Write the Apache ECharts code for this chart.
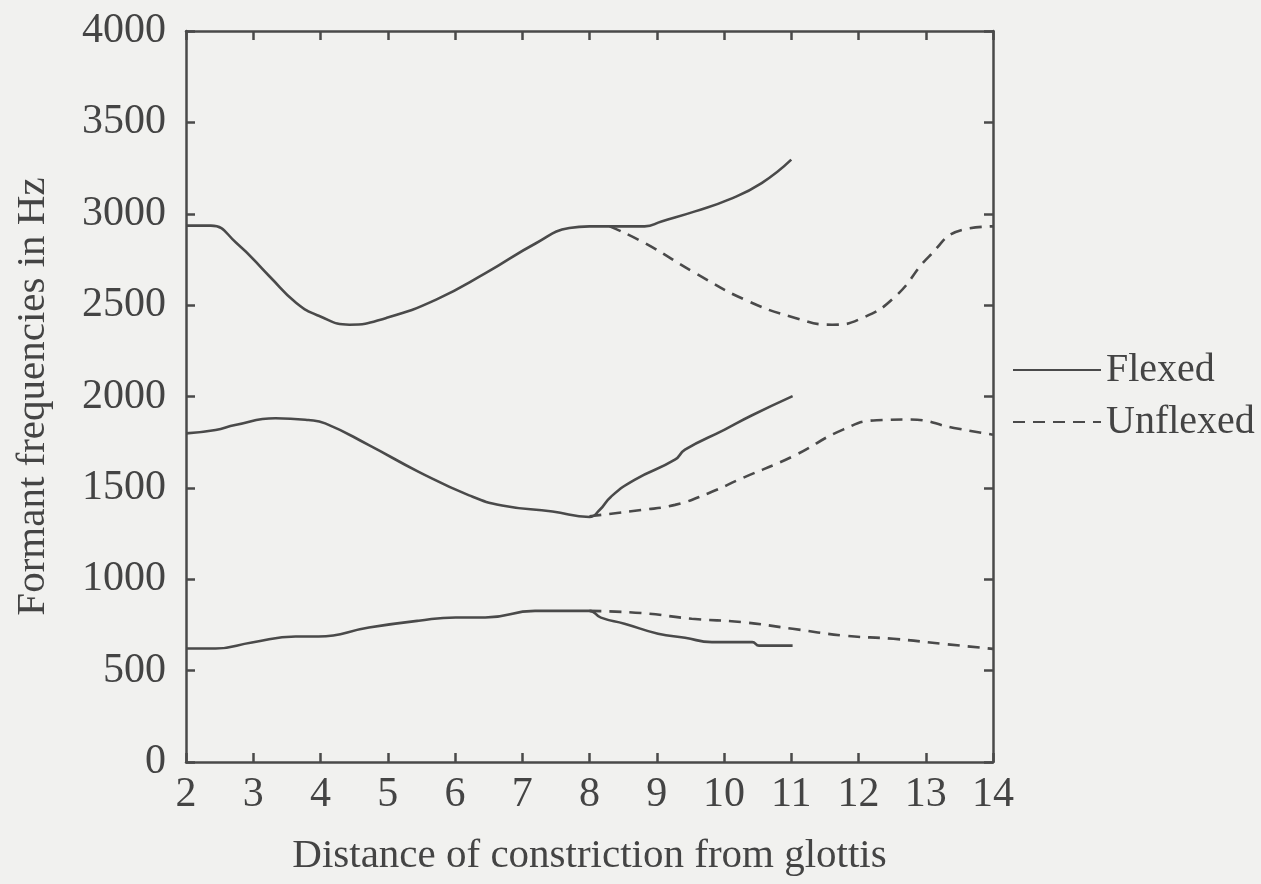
<!DOCTYPE html>
<html>
<head>
<meta charset="utf-8">
<script src="https://cdn.jsdelivr.net/npm/echarts@6/dist/echarts.min.js"></script>
<style>
  html, body { margin: 0; padding: 0; background: #f1f1ef; }
  #chart { width: 1261px; height: 884px; }
</style>
</head>
<body>
<div id="chart"></div>
<script>
// [distance, Hz]
var flexedF3 = [[2, 2935], [2.37, 2935], [2.75, 2840], [3.24, 2658], [3.64, 2512], [3.99, 2439], [4.43, 2393], [4.98, 2430], [5.72, 2530], [6.46, 2676], [7.21, 2840], [7.7, 2922], [8.0, 2931], [8.82, 2931], [9.07, 2958], [9.57, 3013], [10.07, 3077], [10.56, 3168], [11.0, 3296]];
var unflexedF3 = [[8.3, 2931], [8.82, 2840], [9.57, 2676], [10.31, 2530], [11.06, 2430], [11.61, 2393], [12.06, 2430], [12.55, 2548], [13.05, 2767], [13.55, 2913], [14, 2931]];
var flexedF2 = [[2, 1798], [2.44, 1817], [2.73, 1844], [3.33, 1881], [3.82, 1871], [4.07, 1853], [4.72, 1734], [5.46, 1588], [6.21, 1459], [6.7, 1404], [7.45, 1371], [8.0, 1341], [8.15, 1379], [8.32, 1452], [8.67, 1544], [9.27, 1654], [9.42, 1709], [10.01, 1819], [10.41, 1896], [11.02, 2002]];
var unflexedF2 = [[8.0, 1345], [8.77, 1379], [9.27, 1407], [9.77, 1471], [10.27, 1553], [11.02, 1672], [11.77, 1819], [12.27, 1870], [12.77, 1874], [13.42, 1828], [14, 1791]];
var flexedF1 = [[2, 621], [2.44, 621], [2.98, 654], [3.63, 687], [3.97, 687], [4.72, 736], [5.46, 773], [6.01, 791], [6.45, 791], [7.19, 827], [8.0, 827], [8.17, 790], [8.52, 757], [9.02, 702], [9.42, 680], [9.82, 656], [10.42, 656], [10.52, 637], [11.02, 637]];
var unflexedF1 = [[8.0, 827], [8.77, 815], [9.52, 784], [10.27, 765], [11.02, 729], [11.77, 692], [12.52, 674], [13.27, 646], [14, 619]];

var legendNames = ['Flexed', 'Unflexed'];

var ink = '#4a4a4a';
var serif = 'Liberation Serif';

function curve (name, data, dashed) {
  return {
    name: name,
    type: 'line',
    data: data,
    showSymbol: false,
    symbol: 'none',
    smooth: 0.5,
    silent: true,
    lineStyle: { color: ink, width: 2.6, type: dashed ? [12, 8] : 'solid' },
    itemStyle: { color: ink }
  };
}

var myChart = echarts.init(document.getElementById('chart'));
var frameAxis = {
  axisLine: { show: true, onZero: false, lineStyle: { color: ink, width: 2.5 } },
  axisTick: { show: true, inside: true, length: 9, lineStyle: { color: ink, width: 2.5 } },
  splitLine: { show: false }
};

var option = {
  backgroundColor: '#f1f1ef',
  animation: false,
  grid: { left: 186, right: 268, top: 31, bottom: 122 },
  legend: {
    data: legendNames,
    orient: 'vertical',
    left: 1012,
    top: 350,
    padding: 0,
    itemGap: 12,
    itemWidth: 88,
    itemHeight: 20,
    itemStyle: { opacity: 0 },
    textStyle: { fontFamily: serif, fontSize: 40, color: '#444' },
    selectedMode: false
  },
  xAxis: [
    Object.assign({
      type: 'value', position: 'bottom', min: 2, max: 14, interval: 1,
      name: 'Distance of constriction from glottis',
      nameLocation: 'middle', nameGap: 74,
      nameTextStyle: { fontFamily: serif, fontSize: 41, color: '#444' },
      axisLabel: { fontFamily: serif, fontSize: 42, color: '#444', margin: 12 }
    }, frameAxis),
    Object.assign({
      type: 'value', position: 'top', min: 2, max: 14, interval: 1,
      axisLabel: { show: false }
    }, frameAxis)
  ],
  yAxis: [
    Object.assign({
      type: 'value', position: 'left', min: 0, max: 4000, interval: 500,
      name: 'Formant frequencies in Hz',
      nameLocation: 'middle', nameGap: 132, nameRotate: 90,
      nameTextStyle: { fontFamily: serif, fontSize: 41, color: '#444' },
      axisLabel: { fontFamily: serif, fontSize: 42, color: '#444', margin: 20, formatter: function (v) { return String(v); } }
    }, frameAxis),
    Object.assign({
      type: 'value', position: 'right', min: 0, max: 4000, interval: 500,
      axisLabel: { show: false }
    }, frameAxis)
  ],
  series: [
    curve('Flexed', flexedF3, false),
    curve('Flexed', flexedF2, false),
    curve('Flexed', flexedF1, false),
    curve('Unflexed', unflexedF3, true),
    curve('Unflexed', unflexedF2, true),
    curve('Unflexed', unflexedF1, true)
  ]
};
myChart.setOption(option);
window.addEventListener('resize', function () { myChart.resize() })
</script>
</body>
</html>
